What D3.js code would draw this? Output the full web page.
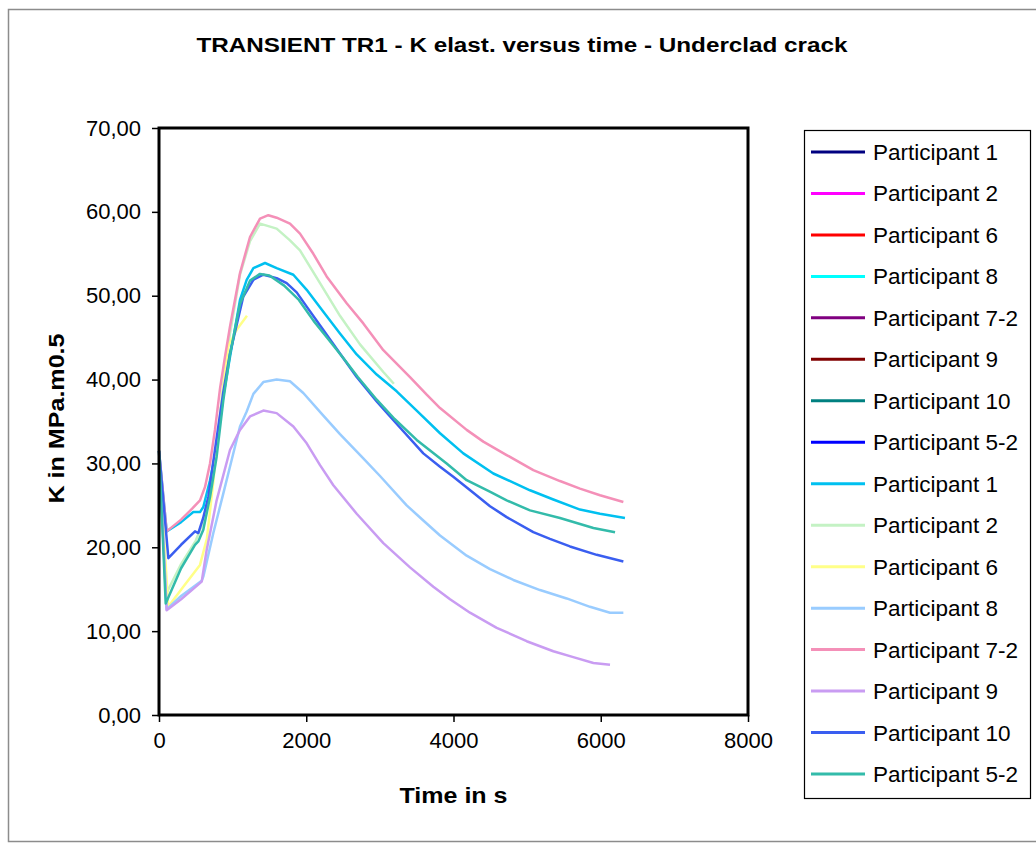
<!DOCTYPE html>
<html lang="en">
  <head>
    <meta charset="utf-8">
    <title>TRANSIENT TR1 - K elast. versus time</title>
    <script src="https://cdn.jsdelivr.net/npm/d3@7"></script>
    <style>
      body { margin: 0; background: #fff; }
      text { font-family: "Liberation Sans", Arial, sans-serif; }
    </style>
  </head>
  <body>
    <div id="chart"></div>
    <script>
      // legend entries, in the order the spreadsheet lists them
      const seriesNames = [
          "Participant 1", "Participant 2", "Participant 6", "Participant 8",
          "Participant 7-2", "Participant 9", "Participant 10", "Participant 5-2",
          "Participant 1", "Participant 2", "Participant 6", "Participant 8",
          "Participant 7-2", "Participant 9", "Participant 10", "Participant 5-2"
      ];
      const seriesColors = [
          "#000080", "#ff00ff", "#ff0000", "#00ffff",
          "#800080", "#800000", "#008080", "#0000ff",
          "#00c0f0", "#c4f2c4", "#ffff88", "#99ccff",
          "#f490b8", "#c99cf2", "#3a5ef0", "#33bbaa"
      ];

      const xTicks = [0, 2000, 4000, 6000, 8000];
      const yTicks = [0, 10, 20, 30, 40, 50, 60, 70];

      // [time in s, K in MPa.m0.5] -- first set of series has nothing plotted
      const p1a = [], p2a = [], p6a = [], p8a = [], p72a = [], p9a = [], p10a = [], p52a = [];

      const p1b = [[0,31.5],[104,21.9],[300,23.0],[466,24.2],[557,24.2],[602,24.8],[693,28.0],
          [783,32.0],[873,38.0],[964,42.7],[1100,49.5],[1191,51.9],[1282,53.3],[1440,53.9],
          [1598,53.3],[1825,52.5],[2006,50.7],[2232,48.1],[2458,45.5],[2685,43.0],[2957,40.6],
          [3228,38.6],[3500,36.3],[3817,33.6],[4133,31.2],[4541,28.8],[5039,26.8],[5356,25.7],
          [5718,24.5],[5990,24.0],[6329,23.5]];

      const p2b = [[0,31.5],[100,14.5],[300,18.0],[500,20.8],[600,23.0],[693,27.0],[783,31.5],
          [880,40.0],[964,45.5],[1100,52.5],[1236,56.5],[1372,58.6],[1598,58.0],[1779,56.6],
          [1915,55.4],[2187,51.5],[2458,47.6],[2730,44.2],[3047,40.9],[3190,39.5]];

      const p6b = [[0,31.5],[125,12.9],[330,15.3],[557,17.9],[650,21.0],[740,28.0],[806,34.0],
          [940,44.0],[1060,46.0],[1195,47.6]];

      const p8b = [[0,31.5],[104,12.6],[300,14.2],[580,16.0],[602,16.5],[738,21.7],[873,26.4],
          [964,29.6],[1100,34.4],[1191,36.2],[1282,38.3],[1417,39.7],[1598,40.0],[1779,39.8],
          [1960,38.4],[2232,35.7],[2458,33.5],[2775,30.6],[3002,28.5],[3364,25.0],[3590,23.2],
          [3817,21.4],[4179,19.0],[4496,17.4],[4813,16.1],[5175,14.9],[5537,13.9],[5854,12.9],
          [6126,12.2],[6307,12.2]];

      const p72b = [[0,31.5],[104,21.9],[300,23.3],[450,24.6],[557,25.6],[625,27.2],[693,30.0],
          [760,34.0],[830,39.0],[896,42.7],[964,46.3],[1100,52.7],[1236,57.0],[1372,59.2],
          [1485,59.6],[1598,59.3],[1779,58.6],[1915,57.4],[2096,55.0],[2277,52.3],[2549,49.1],
          [2775,46.7],[3047,43.5],[3409,40.3],[3636,38.2],[3817,36.6],[4179,34.0],[4405,32.6],
          [4722,31.0],[5084,29.2],[5446,27.9],[5718,27.0],[5990,26.2],[6307,25.4]];

      const p9b = [[0,31.5],[104,12.5],[300,13.8],[580,15.9],[648,19.7],[783,25.6],[964,31.6],
          [1100,34.0],[1236,35.6],[1417,36.3],[1598,36.0],[1825,34.4],[2006,32.4],[2187,29.8],
          [2368,27.4],[2685,24.0],[3047,20.5],[3409,17.6],[3726,15.3],[3953,13.8],[4224,12.2],
          [4587,10.4],[4994,8.8],[5356,7.6],[5627,6.9],[5900,6.2],[6126,6.0]];

      const p10b = [[0,31.5],[127,18.7],[300,20.3],[489,21.9],[534,21.7],[600,23.5],[670,26.0],
          [760,31.6],[873,38.5],[964,43.1],[1145,49.9],[1282,51.9],[1417,52.5],[1598,52.1],
          [1734,51.5],[1870,50.4],[2006,48.7],[2232,45.9],[2458,43.1],[2685,40.3],[2957,37.4],
          [3138,35.6],[3590,31.2],[3817,29.6],[3997,28.4],[4269,26.5],[4496,24.9],
          [4722,23.6],[5084,21.8],[5310,21.0],[5582,20.1],[5945,19.1],[6307,18.3]];

      const p52b = [[0,31.5],[91,13.3],[300,17.5],[489,20.3],[534,20.7],[602,22.1],[693,26.0],
          [783,30.8],[873,37.5],[964,43.0],[1100,49.0],[1236,51.8],[1372,52.6],[1500,52.4],
          [1700,51.2],[1900,49.5],[2100,47.0],[2300,44.8],[2500,42.6],[2700,40.3],[2957,37.6],
          [3200,35.3],[3500,32.8],[3907,30.0],[4179,28.0],[4500,26.6],[4722,25.6],[5039,24.4],
          [5446,23.5],[5900,22.3],[6194,21.8]];

      const seriesData = [p1a, p2a, p6a, p8a, p72a, p9a, p10a, p52a,
                          p1b, p2b, p6b, p8b, p72b, p9b, p10b, p52b];

      function Chart() {
          let svgWidth = 1036, svgHeight = 843;
          let plot = { left: 159, top: 128, right: 748, bottom: 715 };

          let svg = d3.select("#chart")
              .append("svg")
              .attr("width", svgWidth)
              .attr("height", svgHeight);

          // outer chart border
          svg.append("rect")
              .attr("x", 8.5).attr("y", 9.5)
              .attr("width", 1040).attr("height", 832)
              .attr("fill", "#fff")
              .attr("stroke", "#8c8c8c")
              .attr("stroke-width", 1.5);

          svg.append("text")
              .attr("x", 522).attr("y", 52)
              .attr("text-anchor", "middle")
              .attr("font-size", 20)
              .attr("font-weight", "bold")
              .attr("textLength", 651)
              .attr("lengthAdjust", "spacingAndGlyphs")
              .text("TRANSIENT TR1 - K elast. versus time - Underclad crack");

          let xScale = d3.scaleLinear()
              .domain([0, 8000])
              .range([plot.left, plot.right]);

          let yScale = d3.scaleLinear()
              .domain([0, 70])
              .range([plot.bottom, plot.top]);

          let xAxis = d3.axisBottom(xScale)
              .tickValues(xTicks)
              .tickSize(7)
              .tickPadding(10)
              .tickFormat(d3.format("d"));

          let yAxis = d3.axisLeft(yScale)
              .tickValues(yTicks)
              .tickSize(7)
              .tickPadding(11)
              .tickFormat(d => d3.format(".2f")(d).replace(".", ","));

          let gx = svg.append("g")
              .attr("transform", `translate(0, ${plot.bottom})`)
              .call(xAxis);
          let gy = svg.append("g")
              .attr("transform", `translate(${plot.left}, 0)`)
              .call(yAxis);

          [gx, gy].forEach(g => {
              g.select(".domain").remove();
              g.selectAll(".tick line").attr("stroke", "#000").attr("stroke-width", 1.5);
              g.selectAll(".tick text")
                  .attr("font-size", 22)
                  .attr("font-family", "Liberation Sans, Arial, sans-serif")
                  .attr("fill", "#000");
          });

          let line = d3.line()
              .x(d => xScale(d[0]))
              .y(d => yScale(d[1]));

          svg.append("g")
              .selectAll("path")
              .data(seriesData.map((d, i) => ({ values: d, color: seriesColors[i] })))
              .join("path")
              .filter(d => d.values.length > 0)
              .attr("fill", "none")
              .attr("stroke", d => d.color)
              .attr("stroke-width", 2.5)
              .attr("stroke-linejoin", "round")
              .attr("d", d => line(d.values));

          // plot frame
          svg.append("rect")
              .attr("x", plot.left).attr("y", plot.top)
              .attr("width", plot.right - plot.left)
              .attr("height", plot.bottom - plot.top)
              .attr("fill", "none")
              .attr("stroke", "#000")
              .attr("stroke-width", 3);

          svg.append("text")
              .attr("x", (plot.left + plot.right) / 2).attr("y", 803)
              .attr("text-anchor", "middle")
              .attr("font-size", 22)
              .attr("font-weight", "bold")
              .attr("textLength", 108)
              .attr("lengthAdjust", "spacingAndGlyphs")
              .text("Time in s");

          svg.append("text")
              .attr("transform", `translate(64, ${(plot.top + plot.bottom) / 2 - 3}) rotate(-90)`)
              .attr("text-anchor", "middle")
              .attr("font-size", 22)
              .attr("font-weight", "bold")
              .attr("textLength", 170)
              .attr("lengthAdjust", "spacingAndGlyphs")
              .text("K in MPa.m0.5");

          // legend
          let legend = svg.append("g");
          legend.append("rect")
              .attr("x", 804.5).attr("y", 130.5)
              .attr("width", 226).attr("height", 668)
              .attr("fill", "#fff")
              .attr("stroke", "#000")
              .attr("stroke-width", 1.2);

          let rowY = d3.scaleLinear().domain([0, 15]).range([152, 774]);

          let rows = legend.selectAll("g.row")
              .data(seriesNames.map((n, i) => ({ name: n, color: seriesColors[i], i: i })))
              .join("g")
              .attr("class", "row")
              .attr("transform", d => `translate(0, ${rowY(d.i)})`);

          rows.append("line")
              .attr("x1", 811).attr("x2", 865)
              .attr("stroke", d => d.color)
              .attr("stroke-width", 3);

          rows.append("text")
              .attr("x", 873).attr("y", 8)
              .attr("font-size", 22.5)
              .text(d => d.name);
      }

      Chart();
    </script>
  </body>
</html>
